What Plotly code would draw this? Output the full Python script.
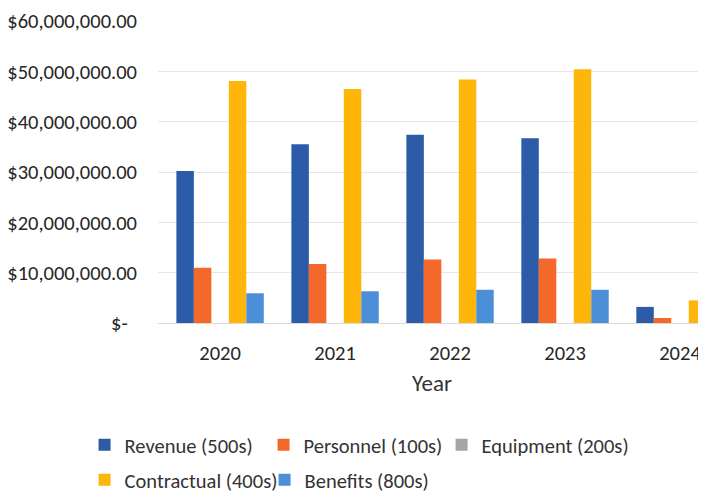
import plotly.graph_objects as go

years = ["2020", "2021", "2022", "2023", "2024"]
revenue = [30.2e6, 35.5e6, 37.4e6, 36.7e6, 3.2e6]
personnel = [11.0e6, 11.7e6, 12.6e6, 12.8e6, 1.0e6]
equipment = [0, 0, 0, 0, 0]
contractual = [48.1e6, 46.5e6, 48.4e6, 50.4e6, 4.5e6]
benefits = [5.9e6, 6.3e6, 6.6e6, 6.6e6, 0]

y_ticks = [0, 10e6, 20e6, 30e6, 40e6, 50e6, 60e6]
y_tick_text = ["$-\u00a0\u00a0", "$10,000,000.00", "$20,000,000.00", "$30,000,000.00",
               "$40,000,000.00", "$50,000,000.00", "$60,000,000.00"]

series = [
    ("Revenue (500s)", revenue, "#2C5BA8", "legend"),
    ("Personnel (100s)", personnel, "#F4692A", "legend"),
    ("Equipment (200s)", equipment, "#A5A5A5", "legend3"),
    ("Contractual (400s)", contractual, "#FFB60A", "legend2"),
    ("Benefits (800s)", benefits, "#4A8FD8", "legend2"),
]

FONT = "Carlito, Roboto, sans-serif"
LEG_FONT = dict(size=20.5, color="#333333")

fig = go.Figure()
for name, vals, color, lg in series:
    fig.add_trace(go.Bar(x=years, y=vals, name=name, marker_color=color,
                         marker_line_width=0, legend=lg))

fig.update_layout(
    width=698, height=485,
    margin=dict(l=150, r=0, t=13, b=170, autoexpand=False),
    paper_bgcolor="white", plot_bgcolor="white",
    barmode="group", bargap=0.24, bargroupgap=0,
    font=dict(family=FONT, color="#333333", size=20),
    showlegend=True,
    legend=dict(orientation="h", x=-0.134, xanchor="left", y=-0.404, yanchor="middle",
                entrywidth=134, font=LEG_FONT, traceorder="normal"),
    legend3=dict(orientation="h", x=0.5175, xanchor="left", y=-0.404, yanchor="middle",
                 font=LEG_FONT, traceorder="normal"),
    legend2=dict(orientation="h", x=-0.134, xanchor="left", y=-0.52, yanchor="middle",
                 entrywidth=135, font=LEG_FONT, traceorder="normal"),
)
fig.update_xaxes(type="category", range=[-0.54, 4.226], showgrid=False, showline=False,
                 automargin=False, ticklabeloverflow="allow",
                 ticks="", tickfont=dict(size=20.5, color="#262626"), ticklabelstandoff=15,
                 title=dict(text="Year", font=dict(size=23, color="#333333"), standoff=10))
fig.update_yaxes(range=[0, 60e6], tickvals=y_ticks, ticktext=y_tick_text, automargin=False,
                 ticklabeloverflow="allow",
                 showgrid=True, gridcolor="#E6E6E6", gridwidth=1,
                 zeroline=True, zerolinecolor="#D9D9D9", zerolinewidth=1,
                 tickfont=dict(size=20.5, color="#262626"), ticklabelstandoff=20)

fig.write_html("out.html")
